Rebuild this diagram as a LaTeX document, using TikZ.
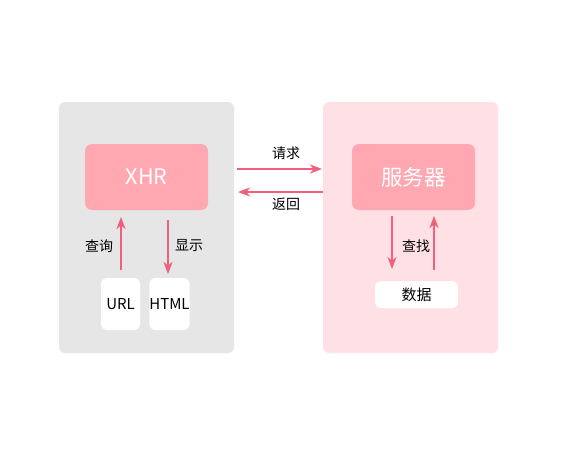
\documentclass[tikz,border=0pt]{standalone}
\usepackage{fontspec}
\setmainfont{Noto Sans CJK SC}
\usetikzlibrary{arrows.meta}
\definecolor{panelgray}{HTML}{E6E6E6}
\definecolor{panelpink}{HTML}{FFE1E5}
\definecolor{boxpink}{HTML}{FFA8B1}
\definecolor{arrowred}{HTML}{F0607A}
\tikzset{
  panel/.style={rounded corners=6pt, inner sep=0pt},
  mainbox/.style={fill=boxpink, rounded corners=7pt, text=white, font=\fontsize{21.5}{24}\selectfont, inner sep=0pt},
  whitebox/.style={fill=white, rounded corners=6pt, text=black, font=\fontsize{15}{17}\selectfont, inner sep=0pt},
  link/.style={draw=arrowred, line width=1.6pt, -{Stealth[length=12pt,width=9pt,inset=3.5pt]}},
  lab/.style={font=\fontsize{14}{16}\selectfont, text=black, inner sep=0pt}
}
\begin{document}
\begin{tikzpicture}[x=1pt,y=-1pt]
\useasboundingbox (0,0) rectangle (576,450);
\fill[white] (0,0) rectangle (576,450);
% panels
\node[panel, fill=panelgray, minimum width=175pt, minimum height=251pt] (left) at (146.5,227.5) {};
\node[panel, fill=panelpink, minimum width=175pt, minimum height=251pt] (right) at (410.5,227.5) {};
% main boxes
\node[mainbox, minimum width=123pt, minimum height=66pt] (xhr) at (146.5,177) {XHR};
\node[mainbox, minimum width=123pt, minimum height=66pt] (srv) at (413.5,177) {服务器};
% white boxes
\node[whitebox, minimum width=39pt, minimum height=52pt] (url) at (120.5,304) {URL};
\node[whitebox, minimum width=39pt, minimum height=52pt] (html) at (169.5,304) {HTML};
\node[whitebox, minimum width=83pt, minimum height=27pt] (data) at (416.5,294.5) {数据};
% anchor coordinates
\coordinate (q1) at (121,270);
\coordinate (q2) at (121,217);
\coordinate (s1) at (168,220);
\coordinate (s2) at (168,274);
\coordinate (f1) at (392,216);
\coordinate (f2) at (392,269);
\coordinate (g1) at (434,270);
\coordinate (g2) at (434,216);
\coordinate (r1) at (237,169);
\coordinate (r2) at (322,169);
\coordinate (b1) at (323,192);
\coordinate (b2) at (238,192);
% arrows
\draw[link] (q1) -- (q2);
\draw[link] (s1) -- (s2);
\draw[link] (f1) -- (f2);
\draw[link] (g1) -- (g2);
\draw[link] (r1) -- (r2);
\draw[link] (b1) -- (b2);
% labels
\node[lab] (lq) at (99,246) {查询};
\node[lab] (ls) at (189,246) {显示};
\node[lab] (lf) at (416,246) {查找};
\node[lab] (lr) at (286,153) {请求};
\node[lab] (lb) at (286,204) {返回};
\end{tikzpicture}
\end{document}
